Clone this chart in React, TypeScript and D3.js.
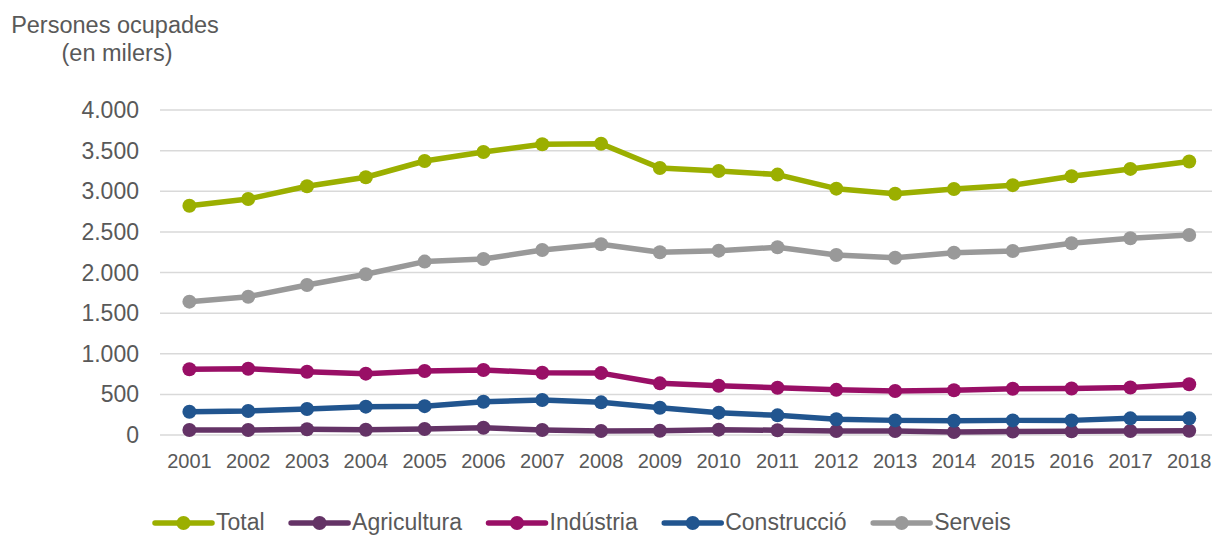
import React, { useMemo } from "react";
import * as d3 from "d3";

const years = ["2001","2002","2003","2004","2005","2006","2007","2008","2009","2010","2011","2012","2013","2014","2015","2016","2017","2018"];
const total = [2822, 2905, 3061, 3172, 3372, 3483, 3578, 3585, 3286, 3250, 3205, 3032, 2970, 3028, 3075, 3184, 3275, 3366];
const agricultura = [62, 62, 70, 65, 74, 90, 62, 49, 53, 66, 58, 50, 50, 37, 42, 45, 49, 53];
const industria = [809, 816, 779, 755, 788, 800, 767, 762, 636, 607, 582, 556, 542, 550, 570, 572, 585, 624];
const construccio = [287, 295, 320, 349, 355, 410, 431, 402, 336, 275, 242, 193, 180, 176, 180, 180, 205, 205];
const serveis = [1641, 1702, 1846, 1978, 2134, 2166, 2277, 2347, 2249, 2269, 2310, 2216, 2182, 2244, 2265, 2360, 2421, 2462];
const yTicks = [0, 500, 1000, 1500, 2000, 2500, 3000, 3500, 4000];

const seriesNames = ["Total", "Agricultura", "Indústria", "Construcció", "Serveis"];
const seriesValues = [total, agricultura, industria, construccio, serveis];
const seriesColors = ["#9BAF00", "#643366", "#990F66", "#21558F", "#999999"];

const FONT = "'Liberation Sans', Arial, sans-serif";
const TEXT = "#595959";

export default function App() {
  const W = 1212, H = 535;
  const x = d3.scaleBand<string>().domain(years).range([160, 1218.6]).paddingInner(0).paddingOuter(0);
  const y = d3.scaleLinear().domain([0, 4000]).range([435, 110]);
  const cx = (yr: string) => (x(yr) as number) + x.bandwidth() / 2;
  const fmt = d3.formatLocale({ decimal: ",", thousands: ".", grouping: [3], currency: ["", "€"] }).format(",d");
  const line = d3.line<number>().x((_, i) => cx(years[i])).y((v) => y(v));

  const legend = useMemo(() => {
    const canvas = document.createElement("canvas");
    const ctx = canvas.getContext("2d")!;
    ctx.font = `23px ${FONT}`;
    let pos = 155;
    return seriesNames.map((n) => {
      const w = ctx.measureText(n).width;
      const item = { name: n, x: pos };
      pos = pos + 61 + w + 26.5;
      return item;
    });
  }, []);

  const LY = 523;

  return (
    <svg width={W} height={H} style={{ position: "absolute", left: 0, top: 0, background: "#fff" }} fontFamily={FONT}>
      <rect width={W} height={H} fill="#fff" />
      <text x={115} y={33} textAnchor="middle" fontSize={23.5} fill={TEXT}>Persones ocupades</text>
      <text x={117} y={61} textAnchor="middle" fontSize={23.5} fill={TEXT}>(en milers)</text>
      {yTicks.map((t) => (
        <g key={t}>
          <line x1={160} x2={1218} y1={y(t)} y2={y(t)} stroke="#d9d9d9" strokeWidth={1.5} />
          <text x={139} y={y(t)} dy="0.35em" textAnchor="end" fontSize={23} fill={TEXT}>{fmt(t)}</text>
        </g>
      ))}
      {years.map((yr) => (
        <text key={yr} x={cx(yr)} y={468} textAnchor="middle" fontSize={20} fill={TEXT}>{yr}</text>
      ))}
      {seriesValues.map((vals, si) => (
        <g key={si}>
          <path d={line(vals) || ""} fill="none" stroke={seriesColors[si]} strokeWidth={5.5} strokeLinejoin="round" />
          {vals.map((v, i) => (
            <circle key={i} cx={cx(years[i])} cy={y(v)} r={7} fill={seriesColors[si]} />
          ))}
        </g>
      ))}
      {legend.map((it, i) => (
        <g key={it.name}>
          <line x1={it.x} x2={it.x + 57} y1={LY} y2={LY} stroke={seriesColors[i]} strokeWidth={5.5} strokeLinecap="round" />
          <circle cx={it.x + 28.5} cy={LY} r={7} fill={seriesColors[i]} />
          <text x={it.x + 61} y={LY + 7} fontSize={23} fill={TEXT}>{it.name}</text>
        </g>
      ))}
    </svg>
  );
}
